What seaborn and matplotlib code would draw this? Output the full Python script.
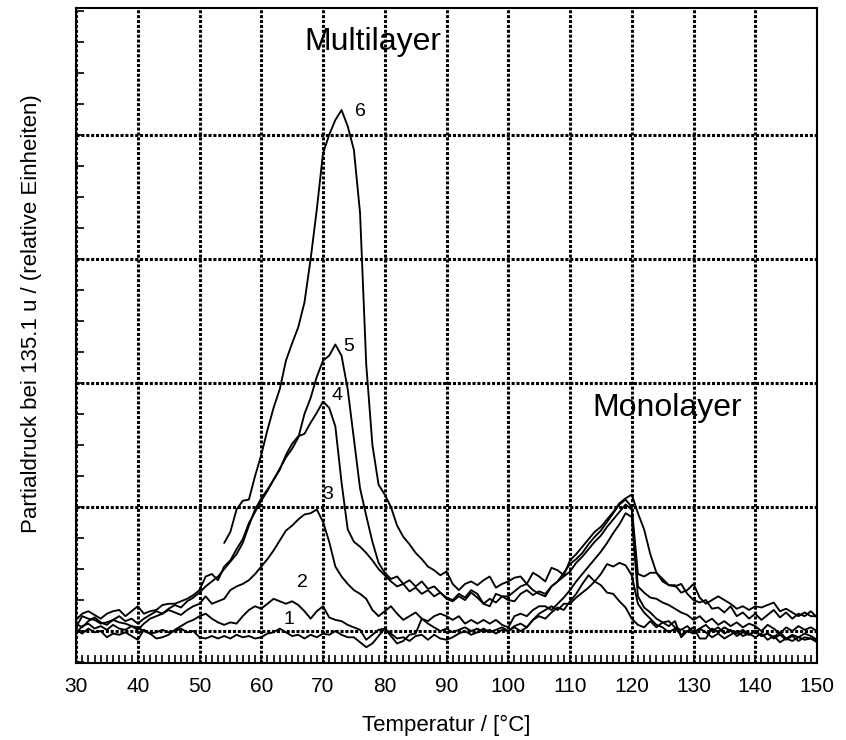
import matplotlib
matplotlib.use("Agg")
import matplotlib.pyplot as plt
import numpy as np
import pandas as pd
import seaborn as sns
from matplotlib.ticker import MultipleLocator, FixedLocator, NullFormatter

# ---------------- data ----------------
temperature = list(range(30, 151))  # °C, 1-degree sampling

curve1 = [0.01, -0.02, 0.02, -0.01, 0.00, -0.05, -0.02, -0.03, -0.01, -0.04,
          -0.07, 0.01, -0.02, -0.01, 0.01, -0.01, 0.00, 0.02, -0.01, 0.00,
          -0.05, -0.06, -0.04, -0.06, -0.04, -0.06, -0.03, -0.05, -0.04, -0.06,
          -0.05, -0.02, -0.01, 0.02, -0.01, -0.04, -0.03, -0.06, -0.03, -0.05,
          -0.02, -0.03, 0.00, -0.03, -0.05, -0.05, -0.09, -0.13, -0.10, -0.04,
          0.02, -0.02, -0.06, -0.05, -0.08, -0.04, -0.03, -0.07, -0.03, -0.06,
          -0.07, -0.05, -0.02, 0.00, -0.03, -0.01, 0.02, -0.01, 0.01, 0.03,
          0.00, 0.04, 0.06, 0.03, 0.09, 0.12, 0.10, 0.15, 0.19, 0.17,
          0.24, 0.30, 0.38, 0.45, 0.40, 0.37, 0.31, 0.30, 0.24, 0.19,
          0.10, 0.05, 0.03, 0.08, 0.03, 0.07, 0.04, 0.08, -0.05, 0.00,
          0.03, -0.06, -0.06, 0.02, -0.01, 0.03, 0.00, -0.02, 0.01, -0.03,
          0.00, -0.04, -0.02, -0.06, -0.03, -0.07, -0.04, -0.08, -0.05, -0.06,
          -0.09]

curve2 = [-0.02, 0.04, 0.06, 0.02, 0.04, 0.01, 0.05, 0.02, 0.01, 0.04,
          0.03, 0.00, -0.02, -0.06, -0.05, -0.03, 0.01, 0.04, 0.07, 0.09,
          0.12, 0.14, 0.10, 0.07, 0.05, 0.07, 0.06, 0.12, 0.17, 0.20,
          0.18, 0.22, 0.26, 0.24, 0.22, 0.24, 0.21, 0.16, 0.10, 0.16,
          0.20, 0.11, 0.09, 0.08, 0.05, 0.03, 0.01, -0.07, -0.03, 0.01,
          0.02, -0.04, -0.10, -0.08, -0.03, -0.02, 0.10, 0.06, 0.03, 0.00,
          0.02, -0.01, 0.01, 0.03, 0.00, 0.02, -0.01, 0.01, -0.02, 0.01,
          0.00, 0.03, 0.00, 0.03, 0.09, 0.14, 0.17, 0.20, 0.17, 0.22,
          0.22, 0.27, 0.31, 0.35, 0.40, 0.46, 0.54, 0.52, 0.55, 0.53,
          0.45, 0.22, 0.15, 0.10, 0.05, 0.03, -0.01, 0.02, -0.03, 0.00,
          -0.02, 0.02, -0.01, -0.05, -0.02, -0.06, -0.03, 0.00, -0.04, -0.02,
          -0.05, -0.02, -0.07, -0.04, -0.09, -0.06, -0.08, -0.05, -0.07, -0.06,
          -0.08]

curve3 = [0.03, 0.12, 0.10, 0.09, 0.06, 0.07, 0.09, 0.07, 0.06, 0.04,
          0.01, 0.06, 0.10, 0.12, 0.14, 0.17, 0.15, 0.13, 0.17, 0.20,
          0.22, 0.28, 0.22, 0.24, 0.26, 0.33, 0.36, 0.38, 0.41, 0.46,
          0.52, 0.58, 0.65, 0.73, 0.81, 0.85, 0.90, 0.94, 0.95, 0.98,
          0.88, 0.72, 0.52, 0.44, 0.38, 0.33, 0.30, 0.26, 0.17, 0.12,
          0.16, 0.20, 0.14, 0.09, 0.12, 0.15, 0.10, 0.08, 0.12, 0.14,
          0.12, 0.09, 0.12, 0.06, 0.09, 0.06, 0.09, 0.06, 0.09, 0.05,
          0.03, 0.12, 0.14, 0.12, 0.17, 0.20, 0.20, 0.17, 0.22, 0.27,
          0.33, 0.40, 0.46, 0.52, 0.58, 0.64, 0.71, 0.79, 0.86, 0.95,
          0.92, 0.28, 0.19, 0.15, 0.10, 0.07, 0.08, 0.03, 0.01, 0.04,
          -0.01, 0.02, 0.05, 0.00, 0.03, -0.02, 0.01, -0.04, -0.01, -0.03,
          0.00, -0.04, -0.02, -0.05, -0.01, -0.06, -0.03, -0.05, -0.02, -0.04,
          -0.07]

curve4 = [0.06, 0.03, 0.08, 0.11, 0.07, 0.05, 0.09, 0.12, 0.08, 0.10,
          0.06, 0.10, 0.13, 0.16, 0.14, 0.18, 0.21, 0.19, 0.24, 0.27,
          0.31, 0.36, 0.40, 0.44, 0.50, 0.56, 0.62, 0.71, 0.85, 0.98,
          1.07, 1.14, 1.22, 1.30, 1.42, 1.51, 1.57, 1.59, 1.68, 1.76,
          1.85, 1.80, 1.65, 1.20, 0.82, 0.72, 0.68, 0.63, 0.57, 0.50,
          0.45, 0.40, 0.36, 0.38, 0.32, 0.35, 0.30, 0.33, 0.28, 0.31,
          0.26, 0.24, 0.28, 0.25, 0.31, 0.27, 0.22, 0.26, 0.23, 0.28,
          0.25, 0.24, 0.30, 0.33, 0.29, 0.32, 0.30, 0.36, 0.40, 0.44,
          0.48, 0.55, 0.60, 0.66, 0.72, 0.77, 0.84, 0.90, 0.96, 1.02,
          0.98, 0.36, 0.31, 0.27, 0.26, 0.23, 0.21, 0.18, 0.15, 0.13,
          0.09, 0.12, 0.07, 0.10, 0.05, 0.08, 0.04, 0.07, 0.03, 0.06,
          0.04, 0.00, 0.05, 0.02, -0.02, 0.03, 0.00, 0.04, 0.01, 0.03,
          0.00]

curve5 = [0.09, 0.14, 0.16, 0.13, 0.10, 0.14, 0.16, 0.17, 0.12, 0.16,
          0.20, 0.14, 0.16, 0.17, 0.21, 0.22, 0.22, 0.24, 0.26, 0.29,
          0.33, 0.44, 0.46, 0.41, 0.52, 0.57, 0.66, 0.74, 0.87, 0.96,
          1.05, 1.13, 1.22, 1.31, 1.40, 1.47, 1.56, 1.75, 1.88, 2.05,
          2.18, 2.22, 2.31, 2.22, 1.95, 1.55, 1.15, 0.93, 0.72, 0.55,
          0.47, 0.42, 0.44, 0.38, 0.41, 0.36, 0.40, 0.34, 0.36, 0.31,
          0.27, 0.25, 0.30, 0.27, 0.33, 0.30, 0.22, 0.20, 0.30, 0.28,
          0.28, 0.32, 0.36, 0.38, 0.33, 0.30, 0.28, 0.36, 0.40, 0.47,
          0.54, 0.58, 0.63, 0.70, 0.76, 0.81, 0.88, 0.95, 1.02, 1.06,
          1.00, 0.46, 0.44, 0.47, 0.47, 0.42, 0.37, 0.36, 0.38, 0.30,
          0.25, 0.23, 0.25, 0.18, 0.19, 0.15, 0.20, 0.12, 0.15, 0.10,
          0.14, 0.09, 0.13, 0.17, 0.11, 0.15, 0.10, 0.14, 0.12, 0.16,
          0.11]

nan = float("nan")
curve6 = [nan] * 24 + [
          0.71, 0.80, 0.98, 1.05, 1.06, 1.25,
          1.42, 1.62, 1.80, 1.95, 2.18, 2.32, 2.45, 2.65, 3.00, 3.40,
          3.85, 4.00, 4.12, 4.20, 4.07, 3.88, 3.37, 2.15, 1.50, 1.18,
          1.10, 1.00, 0.85, 0.76, 0.70, 0.63, 0.58, 0.52, 0.49, 0.45,
          0.48, 0.38, 0.33, 0.38, 0.40, 0.37, 0.41, 0.44, 0.35, 0.38,
          0.40, 0.43, 0.44, 0.38, 0.47, 0.44, 0.40, 0.51, 0.49, 0.45,
          0.57, 0.62, 0.68, 0.74, 0.80, 0.84, 0.90, 0.96, 1.03, 1.07,
          1.10, 0.95, 0.82, 0.62, 0.47, 0.40, 0.37, 0.37, 0.31, 0.33,
          0.38, 0.27, 0.22, 0.25, 0.28, 0.25, 0.22, 0.18, 0.20, 0.17,
          0.20, 0.19, 0.21, 0.23, 0.16, 0.18, 0.15, 0.12, 0.15, 0.12,
          0.12]

curve_names = ["1", "2", "3", "4", "5", "6"]
label_T = [64.5, 66.6, 70.7, 72.3, 74.2, 76.0]
label_v = [0.09, 0.39, 1.10, 1.90, 2.29, 4.19]

x_ticks = list(range(30, 151, 10))
x_tick_labels = [str(t) for t in x_ticks]

# ---------------- build long table ----------------
series = [curve1, curve2, curve3, curve4, curve5, curve6]
frames = []
for name, vals in zip(curve_names, series):
    frames.append(pd.DataFrame({"T": temperature, "v": vals, "curve": name}))
df = pd.concat(frames, ignore_index=True).dropna()

# ---------------- plot ----------------
sns.set_style("white")
plt.rcParams["font.family"] = ["Liberation Sans", "DejaVu Sans"]
for key in ["text.color", "axes.labelcolor", "xtick.color", "ytick.color",
            "axes.edgecolor"]:
    plt.rcParams[key] = "black"

fig = plt.figure(figsize=(8.46, 7.40), dpi=100)
ax = fig.add_axes([76 / 846, 1 - 662.7 / 740, (817 - 76) / 846, (662.7 - 8.3) / 740])

sns.lineplot(data=df, x="T", y="v", hue="curve", palette=["black"] * 6,
             estimator=None, sort=True, legend=False, linewidth=1.35, ax=ax)

ax.set_xlim(30, 150)
ax.set_ylim(-0.255, 5.02)

ax.xaxis.set_major_locator(FixedLocator(x_ticks))
ax.set_xticklabels(x_tick_labels)
ax.xaxis.set_minor_locator(MultipleLocator(1))
ax.yaxis.set_major_locator(FixedLocator([0, 1, 2, 3, 4]))
ax.yaxis.set_minor_locator(MultipleLocator(0.25))
ax.yaxis.set_major_formatter(NullFormatter())

ax.grid(which="major", color="black", linestyle=(0, (1, 0.6)), linewidth=2.2)
ax.tick_params(axis="x", which="both", direction="in", length=6, width=1.2,
               bottom=True, top=False, pad=10, labelsize=15, colors="black")
ax.tick_params(axis="y", which="both", direction="in", length=6, width=1.2,
               left=True, right=False, colors="black")

for s in ax.spines.values():
    s.set_visible(True)
    s.set_color("black")
    s.set_linewidth(1.5)

ax.set_xlabel("Temperatur / [°C]", fontsize=16, color="black")
ax.xaxis.set_label_coords(0.5, -0.08)
ax.set_ylabel("Partialdruck bei 135.1 u / (relative Einheiten)", fontsize=16,
              color="black")
ax.yaxis.set_label_coords(-0.046, 0.534)

for name, tx, ty in zip(curve_names, label_T, label_v):
    ax.text(tx, ty, name, fontsize=14, ha="center", va="center", color="black")

ax.text(78.0, 4.75, "Multilayer", fontsize=23, ha="center", va="center",
        color="black")
ax.text(125.8, 1.80, "Monolayer", fontsize=23, ha="center", va="center",
        color="black")

fig.savefig("out.png", dpi=100)
